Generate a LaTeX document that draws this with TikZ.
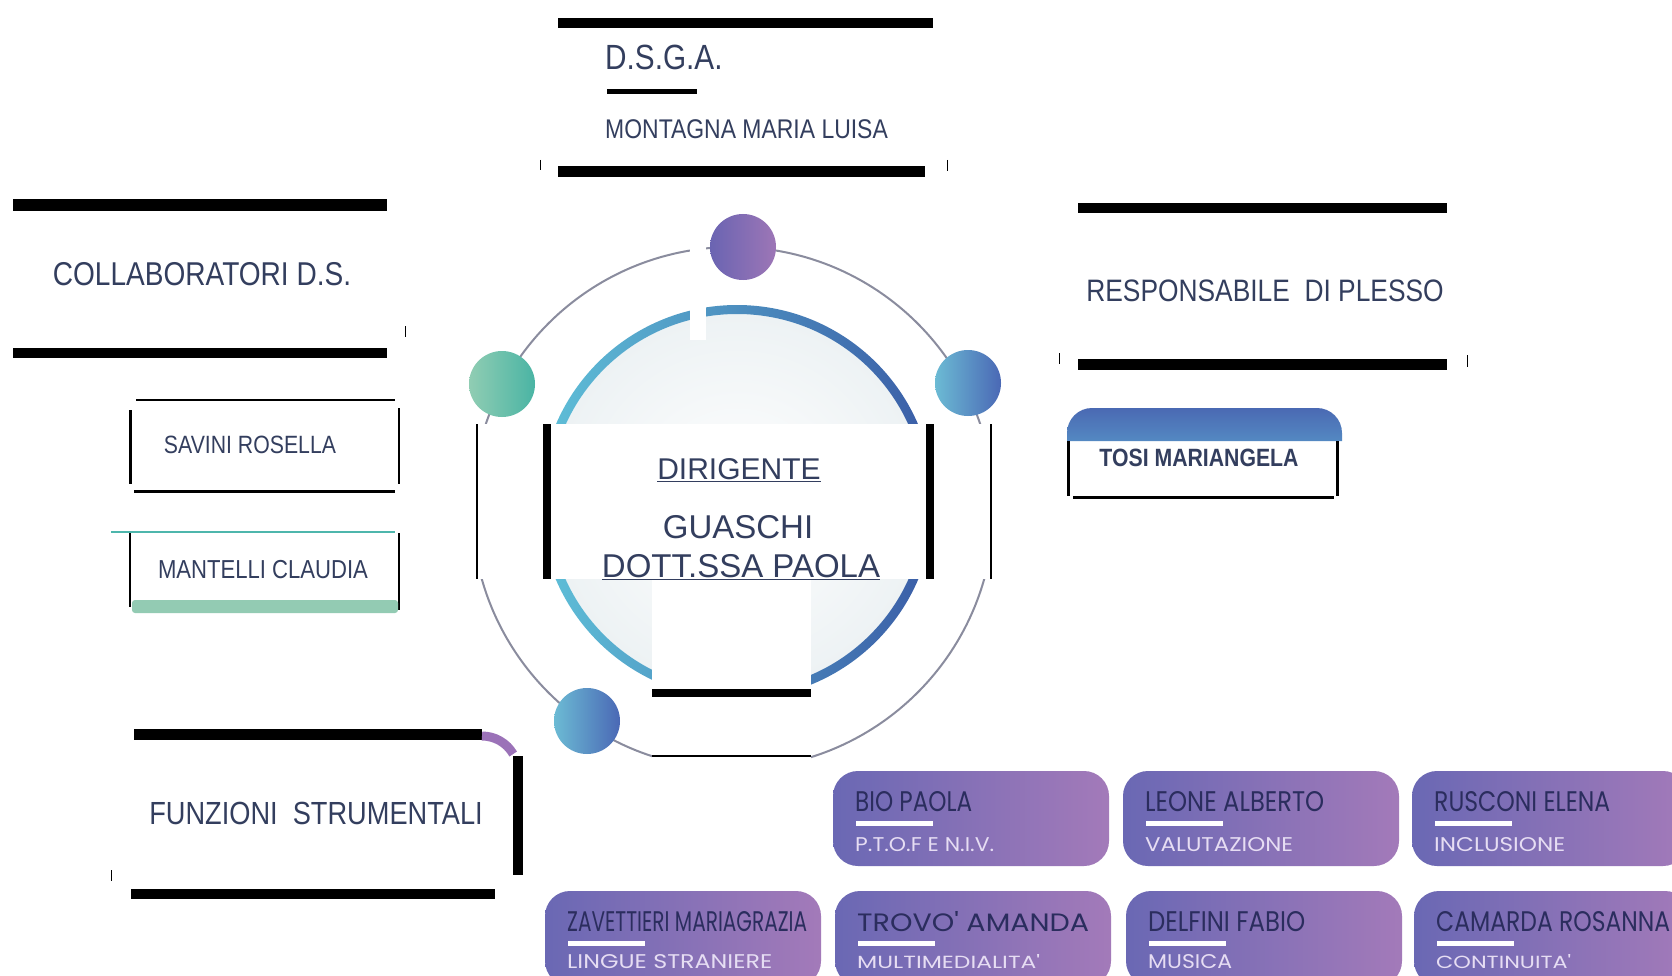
\documentclass[tikz,border=0pt]{standalone}
\usepackage{fontspec}
\usepackage{graphicx}
\usepackage{tikz}
\setmainfont{Liberation Sans}
\newfontfamily\narrowsf[FakeStretch=0.85]{Liberation Sans}
\newfontfamily\cardsf{Poppins}

\definecolor{navy}{HTML}{333E5E}
\definecolor{ringgray}{HTML}{8A8C9E}
\definecolor{ringL}{HTML}{5FC0D8}
\definecolor{ringR}{HTML}{3A5CA6}
\definecolor{fillgray}{HTML}{EDF2F4}
\definecolor{purL}{HTML}{6A64B2}
\definecolor{purR}{HTML}{9D76B6}
\definecolor{grnL}{HTML}{90CDB3}
\definecolor{grnR}{HTML}{4AB4A4}
\definecolor{bluL}{HTML}{6CBBD4}
\definecolor{bluR}{HTML}{4A68B5}
\definecolor{teal}{HTML}{4DB6AC}
\definecolor{mint}{HTML}{93CBB3}
\definecolor{tabtop}{HTML}{4A69B3}
\definecolor{tabbot}{HTML}{5489C2}
\definecolor{cardL}{HTML}{6A68B4}
\definecolor{cardR}{HTML}{A37AB9}
\definecolor{cardname}{HTML}{2B2D5E}
\definecolor{cardsub}{HTML}{E6DDF3}
\definecolor{corner}{HTML}{9B72B8}

\begin{document}
\begin{tikzpicture}[x=1pt, y=-1pt,
    tick/.style={line width=1pt},
    rim/.style={line width=2.5pt},
    dot/.style={circle, minimum size=66pt, inner sep=0pt},
    lbl/.style={text=navy, inner sep=0pt},
    card/.style={rounded corners=25pt, left color=cardL, right color=cardR}]

  \useasboundingbox[fill=white] (0,0) rectangle (1672,976);

  % ring round the head
  \draw[ringgray, line width=2pt] (733,508) circle (261pt);
  \shade[inner color=white, outer color=fillgray] (737,502) circle (188pt);
  \shade[left color=ringL, right color=ringR, even odd rule]
      (737,502) circle (197pt) circle (188pt);
  \node[dot, left color=purL, right color=purR] (ntop)   at (743,247) {};
  \node[dot, left color=grnL, right color=grnR] (nleft)  at (502,384) {};
  \node[dot, left color=bluL, right color=bluR] (nright) at (968,383) {};
  \node[dot, left color=bluL, right color=bluR] (nlow)   at (587,721) {};

  % white masks over the ring
  \fill[white] (690,228) rectangle (706,340);
  \fill[white] (466,424) rectangle (998,579);
  \fill[white] (652,579) rectangle (811,778);
  \fill (476,424) rectangle (478,579);
  \fill (543,424) rectangle (551,579);
  \fill (926,424) rectangle (934,579);
  \fill (990,424) rectangle (992,579);
  \fill (652,689) rectangle (811,697);
  \fill (652,755) rectangle (811,757);

  \node[lbl, font=\fontsize{30}{34}\selectfont] (dir) at (739,470) {\underline{DIRIGENTE}};
  \node[lbl, font=\fontsize{33}{38}\selectfont] (ds1) at (738,527) {GUASCHI};
  \begin{scope}
    \clip (476,424) rectangle (992,581);
    \node[lbl, font=\fontsize{33}{38}\selectfont] (ds2) at (741,567) {\underline{DOTT.SSA PAOLA}};
  \end{scope}

  % D.S.G.A.
  \fill (558,18) rectangle (933,28);
  \node[lbl, anchor=west, font=\narrowsf\fontsize{35}{40}\selectfont] (dsga) at (605,57) {D.S.G.A.};
  \fill (607,89) rectangle (697,94);
  \node[lbl, anchor=west, font=\narrowsf\fontsize{27}{31}\selectfont] (dsganame) at (605,129) {MONTAGNA MARIA LUISA};
  \fill (558,166) rectangle (925,177);
  \draw[tick] (540,160) -- (540,170);
  \draw[tick] (947,160) -- (947,171);

  % collaboratori
  \fill (13,199) rectangle (387,211);
  \node[lbl, font=\narrowsf\fontsize{33}{38}\selectfont] (collab) at (202,274) {COLLABORATORI D.S.};
  \fill (13,348) rectangle (387,358);
  \draw[tick] (405,326) -- (405,337);

  \draw[rim] (136,400) -- (395,400);
  \draw[line width=3pt] (130,410) -- (130,484);
  \draw[rim] (399,408) -- (399,484);
  \draw[line width=3pt] (134,491) -- (395,491);
  \node[lbl, font=\narrowsf\fontsize{25}{29}\selectfont] (coll1) at (250,445) {SAVINI ROSELLA};

  \draw[teal, line width=1.5pt] (111,532) -- (395,532);
  \draw[rim] (130,533) -- (130,607);
  \draw[rim] (399,533) -- (399,610);
  \fill[mint, rounded corners=3pt] (132,600) rectangle (398,613);
  \node[lbl, font=\narrowsf\fontsize{26}{30}\selectfont] (coll2) at (263,570) {MANTELLI CLAUDIA};

  % funzioni strumentali
  \fill (134,729) rectangle (482,740);
  \draw[corner, line width=9pt] (482,736) arc (90:30:36pt);
  \fill (513,756) rectangle (523,875);
  \node[lbl, font=\narrowsf\fontsize{32}{36}\selectfont] (fs) at (316,813) {FUNZIONI\ \ STRUMENTALI};
  \fill (131,889) rectangle (495,899);
  \draw[tick] (111,870) -- (111,881);

  % responsabile di plesso
  \fill (1078,203) rectangle (1447,213);
  \node[lbl, font=\narrowsf\fontsize{31}{36}\selectfont] (resp) at (1265,291) {RESPONSABILE\ \ DI\ PLESSO};
  \fill (1078,359) rectangle (1447,370);
  \draw[tick] (1059,353) -- (1059,364);
  \draw[tick] (1467,355) -- (1467,367);

  \shade[top color=tabtop, bottom color=tabbot]
      (1067,441) {[rounded corners=25pt] -- (1067,408) -- (1342,408)} -- (1342,441) -- cycle;
  \draw[line width=3pt] (1068,441) -- (1068,496);
  \draw[line width=3pt] (1337,441) -- (1337,496);
  \draw[line width=3pt] (1073,497) -- (1334,497);
  \node[lbl, font=\narrowsf\bfseries\fontsize{25}{29}\selectfont] (resp1) at (1199,458) {TOSI MARIANGELA};

  % funzioni cards
  \foreach \x/\y/\sy/\nm/\nw/\sb/\sw in {
      833/771/74/BIO PAOLA/117/P.T.O.F E N.I.V./139,
      1123/771/74/LEONE ALBERTO/179/VALUTAZIONE/148,
      1412/771/74/RUSCONI ELENA/176/INCLUSIONE/131,
      545/891/71/ZAVETTIERI MARIAGRAZIA/240/LINGUE STRANIERE/205,
      835/891/71/TROVO' AMANDA/232/MULTIMEDIALITA'/183,
      1126/891/71/DELFINI FABIO/157/MUSICA/84,
      1414/891/71/CAMARDA ROSANNA/234/CONTINUITA'/135}
  {
    \shade[card] (\x,\y) rectangle ++(276,95);
    \node[anchor=west, inner sep=0pt, text=cardname] (nm-\x-\y) at (\x+22,\y+31)
        {\resizebox{\nw pt}{20pt}{\cardsf \nm}};
    \fill[white] (\x+23,\y+50) rectangle ++(77,5);
    \node[anchor=west, inner sep=0pt, text=cardsub] (sb-\x-\y) at (\x+22,\y+\sy)
        {\resizebox{\sw pt}{14pt}{\cardsf \sb}};
  }
\end{tikzpicture}
\end{document}
